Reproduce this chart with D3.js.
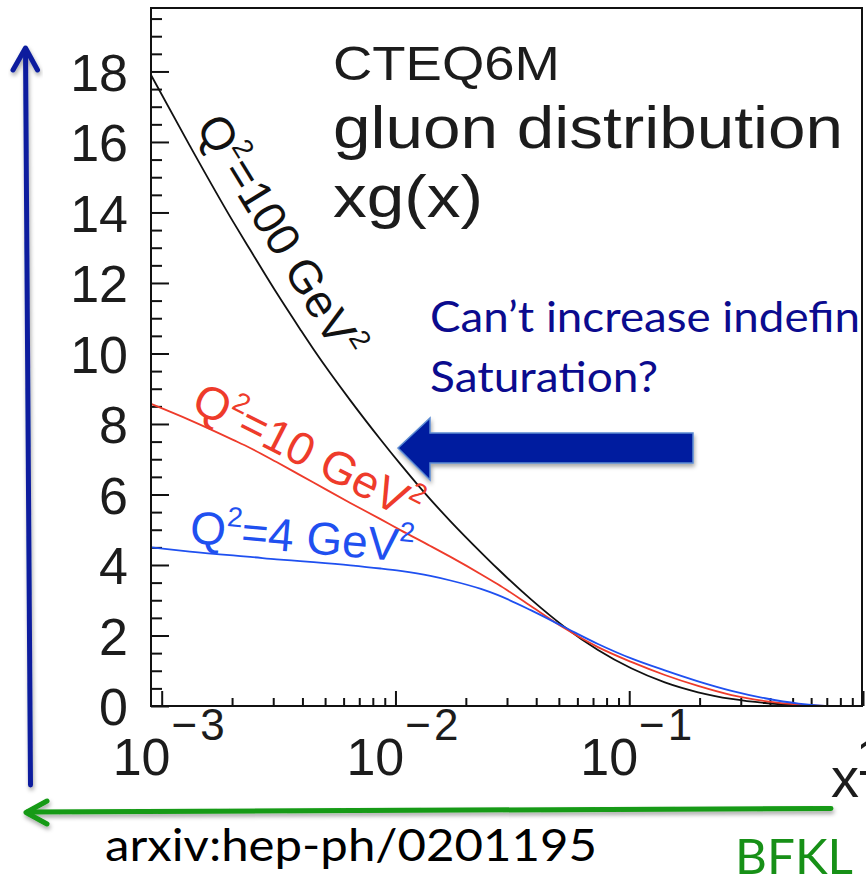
<!DOCTYPE html>
<html>
<head>
<meta charset="utf-8">
<script src="https://cdn.jsdelivr.net/npm/d3@7"></script>
<style>
  html, body { margin: 0; padding: 0; background: #fff; }
  svg { display: block; }
</style>
</head>
<body>
<svg id="chart" width="866" height="877"></svg>
<script>
// CTEQ6M gluon distribution xg(x) at three scales Q^2
const xGrid = [9.0e-4, 1.32e-3, 2.02e-3, 2.39e-3, 3.10e-3, 3.91e-3, 4.46e-3, 6.41e-3, 8.63e-3,
               1.05e-2, 1.41e-2, 1.72e-2, 2.32e-2, 2.73e-2, 3.79e-2, 5.27e-2, 7.35e-2,
               0.102, 0.142, 0.197, 0.274, 0.381, 0.530, 0.736, 1.0];
const xgQ2_100 = [17.90, 15.89, 13.74, 12.94, 11.72, 10.69, 10.12, 8.67, 7.56,
                  6.86, 5.86, 5.24, 4.36, 3.90, 3.03, 2.25, 1.59,
                  1.07, 0.67, 0.39, 0.20, 0.085, 0.03, 0, 0];
const xgQ2_10  = [8.57, 8.11, 7.55, 7.32, 6.92, 6.55, 6.34, 5.76, 5.30,
                  4.99, 4.54, 4.23, 3.74, 3.46, 2.84, 2.21, 1.67,
                  1.25, 0.88, 0.57, 0.31, 0.14, 0.04, 0, 0];
const xgQ2_4   = [4.50, 4.38, 4.27, 4.23, 4.16, 4.11, 4.08, 3.99, 3.90,
                  3.83, 3.69, 3.56, 3.32, 3.15, 2.72, 2.24, 1.76,
                  1.35, 1.01, 0.70, 0.43, 0.22, 0.07, 0, 0];

const seriesNames  = ["100", "10", "4"];
const seriesColors = ["#111111", "#ee3b2b", "#1f50f0"];

const yTickValues = [0, 2, 4, 6, 8, 10, 12, 14, 16, 18];
const yTickLabels = ["0", "2", "4", "6", "8", "10", "12", "14", "16", "18"];
const xDecades = [1e-3, 1e-2, 1e-1, 1];
const xDecadeBase = ["10", "10", "10", "1"];
const xDecadeExp  = ["\u22123", "\u22122", "\u22121", ""];

const titleLines = ["CTEQ6M", "gluon distribution", "xg(x)"];

// ---------------------------------------------------------------------
const svg = d3.select("#chart");
const W = 866, H = 877;
svg.append("rect").attr("width", W).attr("height", H).attr("fill", "#fff");

const defs = svg.append("defs");
const sh = defs.append("filter").attr("id", "shadow")
  .attr("x", "-20%").attr("y", "-50%").attr("width", "140%").attr("height", "200%");
sh.append("feDropShadow").attr("dx", 1).attr("dy", 3).attr("stdDeviation", 2)
  .attr("flood-color", "#000").attr("flood-opacity", 0.35);

const plot = { left: 151, right: 863, top: 8, bottom: 706 };
const x = d3.scaleLog().domain([9e-4, 1]).range([plot.left, plot.right]);
const y = d3.scaleLinear().domain([0, 19.8]).range([plot.bottom, plot.top]);

const axisFont = "'Liberation Sans', Arial, Helvetica, sans-serif";
const slideFont = "Lato, 'Open Sans', 'Noto Sans', sans-serif";

// ---- y axis: minor ticks every 0.5, major every 2 (ticks point inward)
const yMinor = d3.range(0.5, 19.8, 0.5).filter(v => v % 2 !== 0);
svg.append("g").attr("transform", `translate(${plot.left},0)`)
  .call(d3.axisLeft(y).tickValues(yMinor).tickSize(-11).tickFormat(""))
  .call(g => g.select(".domain").remove())
  .call(g => g.selectAll("line").attr("stroke", "#111").attr("stroke-width", 2));

svg.append("g").attr("transform", `translate(${plot.left},0)`)
  .call(d3.axisLeft(y).tickValues(yTickValues).tickSize(-18).tickPadding(23)
        .tickFormat((d, i) => yTickLabels[i]))
  .call(g => g.select(".domain").remove())
  .call(g => g.selectAll("line").attr("stroke", "#111").attr("stroke-width", 2))
  .call(g => g.selectAll("text").attr("font-family", axisFont).attr("font-size", 52)
        .attr("fill", "#1c1c1c").attr("dy", "0.36em"));

// ---- x axis: log ticks
const xMinor = x.ticks().filter(v => v >= 1e-3 && !xDecades.some(d => Math.abs(d - v) / d < 1e-6));
svg.append("g").attr("transform", `translate(0,${plot.bottom})`)
  .call(d3.axisBottom(x).tickValues(xMinor).tickSize(-8).tickFormat(""))
  .call(g => g.select(".domain").remove())
  .call(g => g.selectAll("line").attr("stroke", "#111").attr("stroke-width", 2));
svg.append("g").attr("transform", `translate(0,${plot.bottom})`)
  .call(d3.axisBottom(x).tickValues(xDecades).tickSize(-15).tickFormat(""))
  .call(g => g.select(".domain").remove())
  .call(g => g.selectAll("line").attr("stroke", "#111").attr("stroke-width", 2));

const xl = svg.append("g").attr("font-family", axisFont).attr("fill", "#1c1c1c");
xDecades.forEach((d, i) => {
  const t = xl.append("text").attr("x", x(d) - (xDecadeExp[i] ? 49 : 7)).attr("y", 775)
    .attr("font-size", 52);
  t.append("tspan").text(xDecadeBase[i]);
  if (xDecadeExp[i]) {
    t.append("tspan").attr("font-size", 44).attr("dy", -35).attr("dx", 1)
      .attr("letter-spacing", 3).text(xDecadeExp[i]);
  }
});
xl.append("text").attr("x", 831).attr("y", 797).attr("font-size", 56).text("x");

// ---- curves
const series = [xgQ2_100, xgQ2_10, xgQ2_4];
const line = d3.line()
  .x((d, i) => x(xGrid[i]))
  .y(d => y(d))
  .curve(d3.curveMonotoneX);
series.forEach((vals, k) => {
  svg.append("path").datum(vals)
    .attr("d", line)
    .attr("fill", "none")
    .attr("stroke", seriesColors[k])
    .attr("stroke-width", 1.8);
});

// ---- frame
svg.append("rect")
  .attr("x", plot.left).attr("y", plot.top)
  .attr("width", plot.right - plot.left - 1).attr("height", plot.bottom - plot.top)
  .attr("fill", "none").attr("stroke", "#111").attr("stroke-width", 2);

// ---- curve labels, rotated along each curve
const labelAnchors = [
  { xv: 1.39e-3, yv: 16.43, angle: 58.5 },
  { xv: 1.315e-3, yv: 8.41, angle: 27 },
  { xv: 1.31e-3, yv: 4.63, angle: 5 }
];
labelAnchors.forEach((a, k) => {
  const t = svg.append("text")
    .attr("transform", `translate(${x(a.xv)},${y(a.yv)}) rotate(${a.angle})`)
    .attr("font-family", axisFont).attr("font-size", 46)
    .attr("fill", seriesColors[k]);
  t.append("tspan").text("Q");
  t.append("tspan").attr("font-size", 28).attr("dy", -20).text("2");
  t.append("tspan").attr("dy", 20).text("=" + seriesNames[k] + " GeV");
  t.append("tspan").attr("font-size", 28).attr("dy", -20).text("2");
});

// ---- title block
const titleSpec = [
  { size: 49, y: 80, len: 227 },
  { size: 60, y: 148, len: 510 },
  { size: 60, y: 217, len: 150 }
];
titleLines.forEach((s, i) => {
  svg.append("text").attr("x", 333).attr("y", titleSpec[i].y)
    .attr("font-family", axisFont).attr("font-size", titleSpec[i].size)
    .attr("fill", "#1c1c1c")
    .attr("textLength", titleSpec[i].len).attr("lengthAdjust", "spacingAndGlyphs")
    .text(s);
});

// ---- annotation text
svg.append("text").attr("x", 430).attr("y", 332)
  .attr("font-family", slideFont).attr("font-size", 42).attr("fill", "#0b0b8e")
  .attr("textLength", 430).attr("lengthAdjust", "spacingAndGlyphs")
  .text("Can\u2019t increase indefin");
svg.append("text").attr("x", 430).attr("y", 392)
  .attr("font-family", slideFont).attr("font-size", 42).attr("fill", "#0b0b8e")
  .attr("textLength", 228).attr("lengthAdjust", "spacingAndGlyphs")
  .text("Saturation?");

// ---- block arrow pointing at the steep curve
const blockArrow = [[398, 448], [430, 418], [430, 433], [693, 433], [693, 463], [430, 463], [430, 480]];
svg.append("path")
  .attr("d", "M" + blockArrow.map(p => p.join(",")).join("L") + "Z")
  .attr("fill", "#001f9f").attr("stroke", "#5b8bd2").attr("stroke-width", 1.5)
  .attr("filter", "url(#shadow)");

// ---- vertical (growth) arrow on the left
const vArrow = svg.append("g").attr("filter", "url(#shadow)")
  .attr("stroke", "#0a1f9e").attr("stroke-width", 5).attr("fill", "none")
  .attr("stroke-linecap", "round").attr("stroke-linejoin", "round");
vArrow.append("line").attr("x1", 30.5).attr("y1", 785).attr("x2", 25.5).attr("y2", 49);
vArrow.append("path").attr("d", "M13,70L25.5,48L37.5,70");

// ---- horizontal (small-x) arrow at the bottom
const hArrow = svg.append("g").attr("filter", "url(#shadow)")
  .attr("stroke", "#139a13").attr("stroke-width", 5).attr("fill", "none")
  .attr("stroke-linecap", "round").attr("stroke-linejoin", "round");
hArrow.append("line").attr("x1", 831).attr("y1", 808.5).attr("x2", 27).attr("y2", 812);
hArrow.append("path").attr("d", "M47,801L26,812.5L47,824");

// ---- bottom captions
svg.append("text").attr("x", 105).attr("y", 861)
  .attr("font-family", slideFont).attr("font-size", 44).attr("fill", "#000")
  .attr("textLength", 492).attr("lengthAdjust", "spacingAndGlyphs")
  .text("arxiv:hep-ph/0201195");
svg.append("text").attr("x", 735).attr("y", 874)
  .attr("font-family", slideFont).attr("font-size", 48).attr("fill", "#179017")
  .attr("textLength", 118).attr("lengthAdjust", "spacingAndGlyphs")
  .text("BFKL");
</script>
</body>
</html>
